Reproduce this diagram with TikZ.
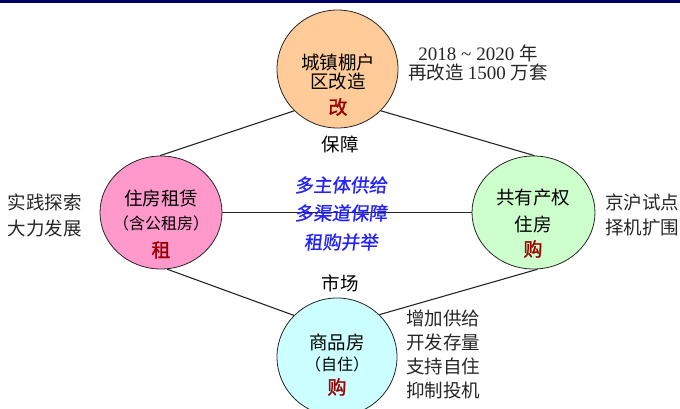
\documentclass[tikz,border=0pt]{standalone}
\usepackage{fontspec}
\usetikzlibrary{shapes.geometric}
\newfontfamily\cjk{Noto Sans CJK SC}
\newfontfamily\cjkbold[FakeBold=1.5]{Noto Sans CJK SC}
\newfontfamily\cjkslant[FakeSlant=0.12,FakeBold=1]{Noto Sans CJK SC}
\newfontfamily\tnr{Liberation Serif}
\definecolor{peach}{HTML}{FFCC99}
\definecolor{pinkfill}{HTML}{FF99CC}
\definecolor{greenfill}{HTML}{CCFFCC}
\definecolor{cyanfill}{HTML}{CCFFFF}
\definecolor{darkred}{HTML}{990000}
\definecolor{bluetext}{HTML}{2222FF}
\definecolor{navy}{HTML}{000066}
\tikzset{
  bub/.style={ellipse, draw=black!85, line width=0.8pt, inner sep=0pt},
  link/.style={draw=black!85, line width=1.1pt},
  txt/.style={inner sep=0pt, font=\cjk\fontsize{18.5}{20}\selectfont},
  small/.style={inner sep=0pt, font=\cjk\fontsize{16}{18}\selectfont},
  key/.style={inner sep=0pt, text=darkred, font=\cjkbold\fontsize{19}{21}\selectfont},
  side/.style={inner sep=0pt, text=black!85, font=\cjk\fontsize{18.5}{20}\selectfont},
  blue/.style={inner sep=0pt, text=bluetext, font=\cjkslant\fontsize{18.5}{20}\selectfont},
}
\begin{document}
\begin{tikzpicture}[x=1pt,y=-1pt]
\useasboundingbox (0,0) rectangle (680,408);
\fill[navy] (0,0) rectangle (680,3);
% bubbles
\node[bub, fill=peach, minimum width=121pt, minimum height=118pt] (top) at (337.5,69) {};
\node[bub, fill=pinkfill, minimum width=122pt, minimum height=113pt] (left) at (161,212.5) {};
\node[bub, fill=greenfill, minimum width=123pt, minimum height=113pt] (right) at (533.5,212.5) {};
\node[bub, fill=cyanfill, minimum width=120pt, minimum height=118pt] (bottom) at (337,357) {};
% connectors
\draw[link] (top.224) -- (left.91);
\draw[link] (top.316) -- (right.89);
\draw[link] (left.east) -- (right.west);
\draw[link] (left.276) -- (bottom.136);
\draw[link] (right.274) -- (bottom.45);
% top texts
\node[txt] (t1) at (338,62) {城镇棚户};
\node[txt] (t2) at (338,82) {区改造};
\node[key] (t3) at (338,107) {改};
\node[side] (ty1) at (478,53) {\tnr\fontsize{19}{20}\selectfont 2018 \textasciitilde{} 2020 \cjk\fontsize{18.5}{20}\selectfont 年};
\node[side] (ty2) at (478,73) {再改造 \tnr\fontsize{19}{20}\selectfont 1500 \cjk\fontsize{18.5}{20}\selectfont 万套};
\node[txt] (baozhang) at (340,144) {保障};
% left
\node[txt] (l1) at (161,198) {住房租赁};
\node[small] (l2) at (161,223) {（含公租房）};
\node[key] (l3) at (161,250) {租};
\node[side] (ls1) at (45,202) {实践探索};
\node[side] (ls2) at (45,228) {大力发展};
% center
\node[blue] (c1) at (341,185) {多主体供给};
\node[blue] (c2) at (341,213) {多渠道保障};
\node[blue] (c3) at (341,242) {租购并举};
% right
\node[txt] (r1) at (533,198) {共有产权};
\node[txt] (r2) at (533,224) {住房};
\node[key] (r3) at (533,249) {购};
\node[side] (rs1) at (642,202) {京沪试点};
\node[side] (rs2) at (642,228) {择机扩围};
% bottom
\node[txt] (shichang) at (340,283) {市场};
\node[txt] (b1) at (337,342) {商品房};
\node[small] (b2) at (337,364) {（自住）};
\node[key] (b3) at (337,387) {购};
\node[side] (bs1) at (443,318) {增加供给};
\node[side] (bs2) at (443,342) {开发存量};
\node[side] (bs3) at (443,366) {支持自住};
\node[side] (bs4) at (443,390) {抑制投机};
\end{tikzpicture}
\end{document}
